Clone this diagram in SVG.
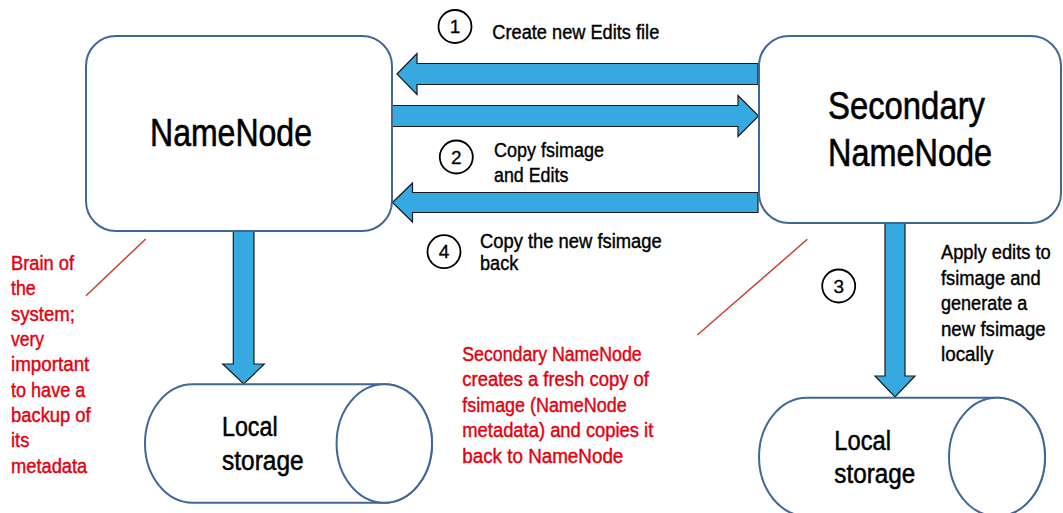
<svg xmlns="http://www.w3.org/2000/svg" width="1063" height="513" viewBox="0 0 1063 513">
<style>
.box{fill:#fff;stroke:#41669a;stroke-width:2}
.arr{fill:#36a9e1;stroke:#1a1a1a;stroke-width:1.2}
.big{font-family:"Liberation Sans",Arial,sans-serif;font-size:38px;fill:#000;stroke:#000;stroke-width:0.6}
.mid{font-family:"Liberation Sans",Arial,sans-serif;font-size:27px;fill:#000;stroke:#000;stroke-width:0.5}
.lbl{font-family:"Liberation Sans",Arial,sans-serif;font-size:20px;fill:#000;stroke:#000;stroke-width:0.4}
.red{font-family:"Liberation Sans",Arial,sans-serif;font-size:19.5px;fill:#e3000f;stroke:#e3000f;stroke-width:0.4}
.num{font-family:"Liberation Sans",Arial,sans-serif;font-size:19px;fill:#000;stroke:#000;stroke-width:0.3;text-anchor:middle}
.circ{fill:#fff;stroke:#000;stroke-width:1.8}
.note{stroke:#c9403a;stroke-width:1.5}
</style>
<rect width="1063" height="513" fill="#fff"/>
<g id="connectors">
<path class="arr" d="M397,74 L417,53.5 L417,63.5 L758,63.5 L758,84.5 L417,84.5 L417,94.5 Z"/>
<path class="arr" d="M392,105.5 L738,105.5 L738,95.5 L758.5,116 L738,136.5 L738,126.5 L392,126.5 Z"/>
<path class="arr" d="M392.5,202.5 L412.5,183 L412.5,192.5 L758,192.5 L758,212.5 L412.5,212.5 L412.5,222 Z"/>
<path class="arr" d="M233.3,231 L254,231 L254,364 L264.3,364 L243.7,384 L222.7,364 L233.3,364 Z"/>
<path class="arr" d="M885,223 L905,223 L905,376 L915,376 L895,397 L875,376 L885,376 Z"/>
</g>
<g id="namenode">
<rect class="box" x="86" y="36" width="306" height="195" rx="30"/>
<text class="big" x="150" y="146" textLength="162" lengthAdjust="spacingAndGlyphs">NameNode</text>
</g>
<g id="secondary-namenode">
<rect class="box" x="759" y="36" width="302" height="187" rx="30"/>
<text class="big" x="828" y="119" textLength="157" lengthAdjust="spacingAndGlyphs">Secondary</text>
<text class="big" x="828" y="165.5" textLength="164" lengthAdjust="spacingAndGlyphs">NameNode</text>
</g>
<g id="local-storage-left">
<path class="box" d="M192.7,384.3 L384.3,384.3 A47.7,59.2 0 0 1 384.3,502.7 L192.7,502.7 A47.7,59.2 0 0 1 192.7,384.3 Z"/>
<ellipse class="box" cx="384.3" cy="443.5" rx="47.7" ry="59.2"/>
<text class="mid" x="222" y="436" textLength="55.6" lengthAdjust="spacingAndGlyphs">Local</text>
<text class="mid" x="222" y="470" textLength="81.6" lengthAdjust="spacingAndGlyphs">storage</text>
</g>
<g id="local-storage-right">
<path class="box" d="M807,397.7 L997,397.7 A48,59.2 0 0 1 997,516.1 L807,516.1 A48,59.2 0 0 1 807,397.7 Z"/>
<ellipse class="box" cx="997" cy="456.9" rx="48" ry="59.2"/>
<text class="mid" x="834.3" y="450" textLength="56.7" lengthAdjust="spacingAndGlyphs">Local</text>
<text class="mid" x="834.3" y="483" textLength="81" lengthAdjust="spacingAndGlyphs">storage</text>
</g>
<g id="step1">
<circle class="circ" cx="455" cy="26.5" r="16.5"/>
<text class="num" x="455" y="33">1</text>
<text class="lbl" x="492.3" y="39" textLength="167" lengthAdjust="spacingAndGlyphs">Create new Edits file</text>
</g>
<g id="step2">
<circle class="circ" cx="456.3" cy="157" r="16.5"/>
<text class="num" x="456.3" y="163.5">2</text>
<text class="lbl" x="494" y="156.7" textLength="110" lengthAdjust="spacingAndGlyphs">Copy fsimage</text>
<text class="lbl" x="494" y="181.7" textLength="74.3" lengthAdjust="spacingAndGlyphs">and Edits</text>
</g>
<g id="step3">
<circle class="circ" cx="838.7" cy="286" r="16.5"/>
<text class="num" x="838.7" y="292.5">3</text>
<text class="lbl" x="941" y="259.3" textLength="109.7" lengthAdjust="spacingAndGlyphs">Apply edits to</text>
<text class="lbl" x="941" y="285" textLength="99.7" lengthAdjust="spacingAndGlyphs">fsimage and</text>
<text class="lbl" x="941" y="310" textLength="86.3" lengthAdjust="spacingAndGlyphs">generate a</text>
<text class="lbl" x="941" y="335.7" textLength="104.7" lengthAdjust="spacingAndGlyphs">new fsimage</text>
<text class="lbl" x="941" y="360.7" textLength="52.3" lengthAdjust="spacingAndGlyphs">locally</text>
</g>
<g id="step4">
<circle class="circ" cx="444" cy="251.7" r="16.5"/>
<text class="num" x="444" y="258.2">4</text>
<text class="lbl" x="480" y="248.3" textLength="181.7" lengthAdjust="spacingAndGlyphs">Copy the new fsimage</text>
<text class="lbl" x="480" y="270" textLength="38.3" lengthAdjust="spacingAndGlyphs">back</text>
</g>
<g id="note-namenode">
<line class="note" x1="145.7" y1="239" x2="86" y2="295.7"/>
<text class="red" x="11" y="270" textLength="63" lengthAdjust="spacingAndGlyphs">Brain of</text>
<text class="red" x="11" y="295.3" textLength="24.7" lengthAdjust="spacingAndGlyphs">the</text>
<text class="red" x="11" y="320.7" textLength="64" lengthAdjust="spacingAndGlyphs">system;</text>
<text class="red" x="11" y="346" textLength="33" lengthAdjust="spacingAndGlyphs">very</text>
<text class="red" x="11" y="371.3" textLength="78.3" lengthAdjust="spacingAndGlyphs">important</text>
<text class="red" x="11" y="396.7" textLength="74.3" lengthAdjust="spacingAndGlyphs">to have a</text>
<text class="red" x="11" y="422" textLength="79.7" lengthAdjust="spacingAndGlyphs">backup of</text>
<text class="red" x="11" y="447.3" textLength="18.3" lengthAdjust="spacingAndGlyphs">its</text>
<text class="red" x="11" y="473" textLength="76.3" lengthAdjust="spacingAndGlyphs">metadata</text>
</g>
<g id="note-secondary">
<line class="note" x1="807.3" y1="239.3" x2="697.3" y2="335"/>
<text class="red" x="462.3" y="360.7" textLength="179.3" lengthAdjust="spacingAndGlyphs">Secondary NameNode</text>
<text class="red" x="462.3" y="386" textLength="186.7" lengthAdjust="spacingAndGlyphs">creates a fresh copy of</text>
<text class="red" x="462.3" y="411.7" textLength="164.3" lengthAdjust="spacingAndGlyphs">fsimage (NameNode</text>
<text class="red" x="462.3" y="437.3" textLength="191" lengthAdjust="spacingAndGlyphs">metadata) and copies it</text>
<text class="red" x="462.3" y="462.7" textLength="161" lengthAdjust="spacingAndGlyphs">back to NameNode</text>
</g>
</svg>
